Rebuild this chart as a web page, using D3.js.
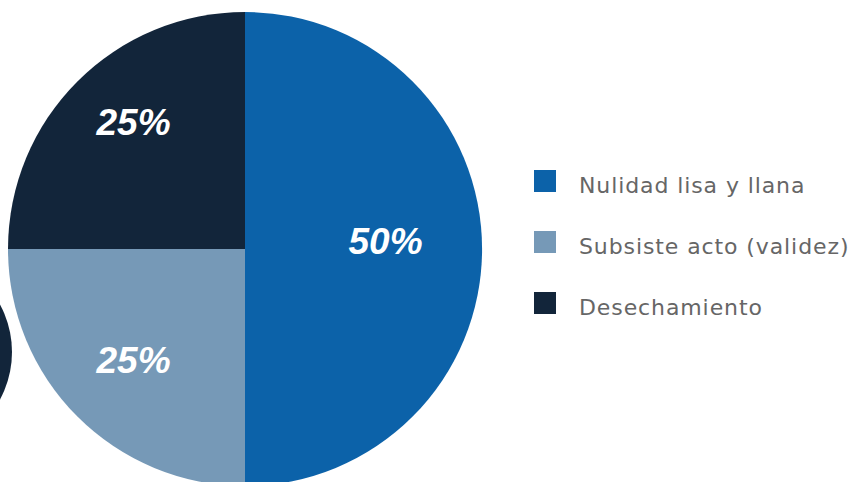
<!DOCTYPE html>
<html>
<head>
<meta charset="utf-8">
<script src="https://cdn.jsdelivr.net/npm/d3@7"></script>
<style>
html,body{margin:0;padding:0;background:#ffffff;}
svg{display:block;}
</style>
</head>
<body>
<svg id="chart" width="857" height="482"></svg>
<script>
const categories = ["Nulidad lisa y llana", "Subsiste acto (validez)", "Desechamiento"];
const values = [50, 25, 25];
const labels = ["50%", "25%", "25%"];
const colors = ["#0c62a9", "#7699b7", "#12253a"];

const svg = d3.select("#chart");
const cx = 245, cy = 249, R = 237;

// decorative partial circle at the left edge
svg.append("circle")
  .attr("cx", -88).attr("cy", 352).attr("r", 100)
  .attr("fill", "#12253a");

const pie = d3.pie().sort(null).value(d => d)(values);
const arc = d3.arc().innerRadius(0).outerRadius(R);
const total = d3.sum(values);

const g = svg.append("g").attr("transform", `translate(${cx},${cy})`);
g.selectAll("path.slice").data(pie).join("path")
  .attr("class", "slice")
  .attr("d", arc)
  .attr("fill", (d, i) => colors[i]);

g.selectAll("text.lbl").data(pie).join("text")
  .attr("class", "lbl")
  .each(function(d) {
    const frac = d.value / total;
    const mid = (d.startAngle + d.endAngle) / 2;
    const rx = R * (0.737 - 0.288 * frac);
    const ry = R * (0.82 - 0.45 * frac);
    d3.select(this)
      .attr("x", Math.sin(mid) * rx)
      .attr("y", -Math.cos(mid) * ry + 5);
  })
  .attr("text-anchor", "middle")
  .attr("font-family", "Liberation Sans, Arial, sans-serif")
  .attr("font-weight", "bold")
  .attr("font-style", "italic")
  .attr("font-size", 37)
  .attr("fill", "#ffffff")
  .text((d, i) => labels[i]);

// legend
const legend = svg.append("g").attr("transform", "translate(534,170)");
const item = legend.selectAll("g").data(categories).join("g")
  .attr("transform", (d, i) => `translate(0,${i * 61})`);
item.append("rect")
  .attr("width", 22).attr("height", 22)
  .attr("fill", (d, i) => colors[i]);
item.append("text")
  .attr("x", 45).attr("y", 23)
  .attr("font-family", "DejaVu Sans, sans-serif")
  .attr("font-size", 22)
  .attr("fill", "#666666")
  .attr("letter-spacing", 0.9)
  .text(d => d);
</script>
</body>
</html>
